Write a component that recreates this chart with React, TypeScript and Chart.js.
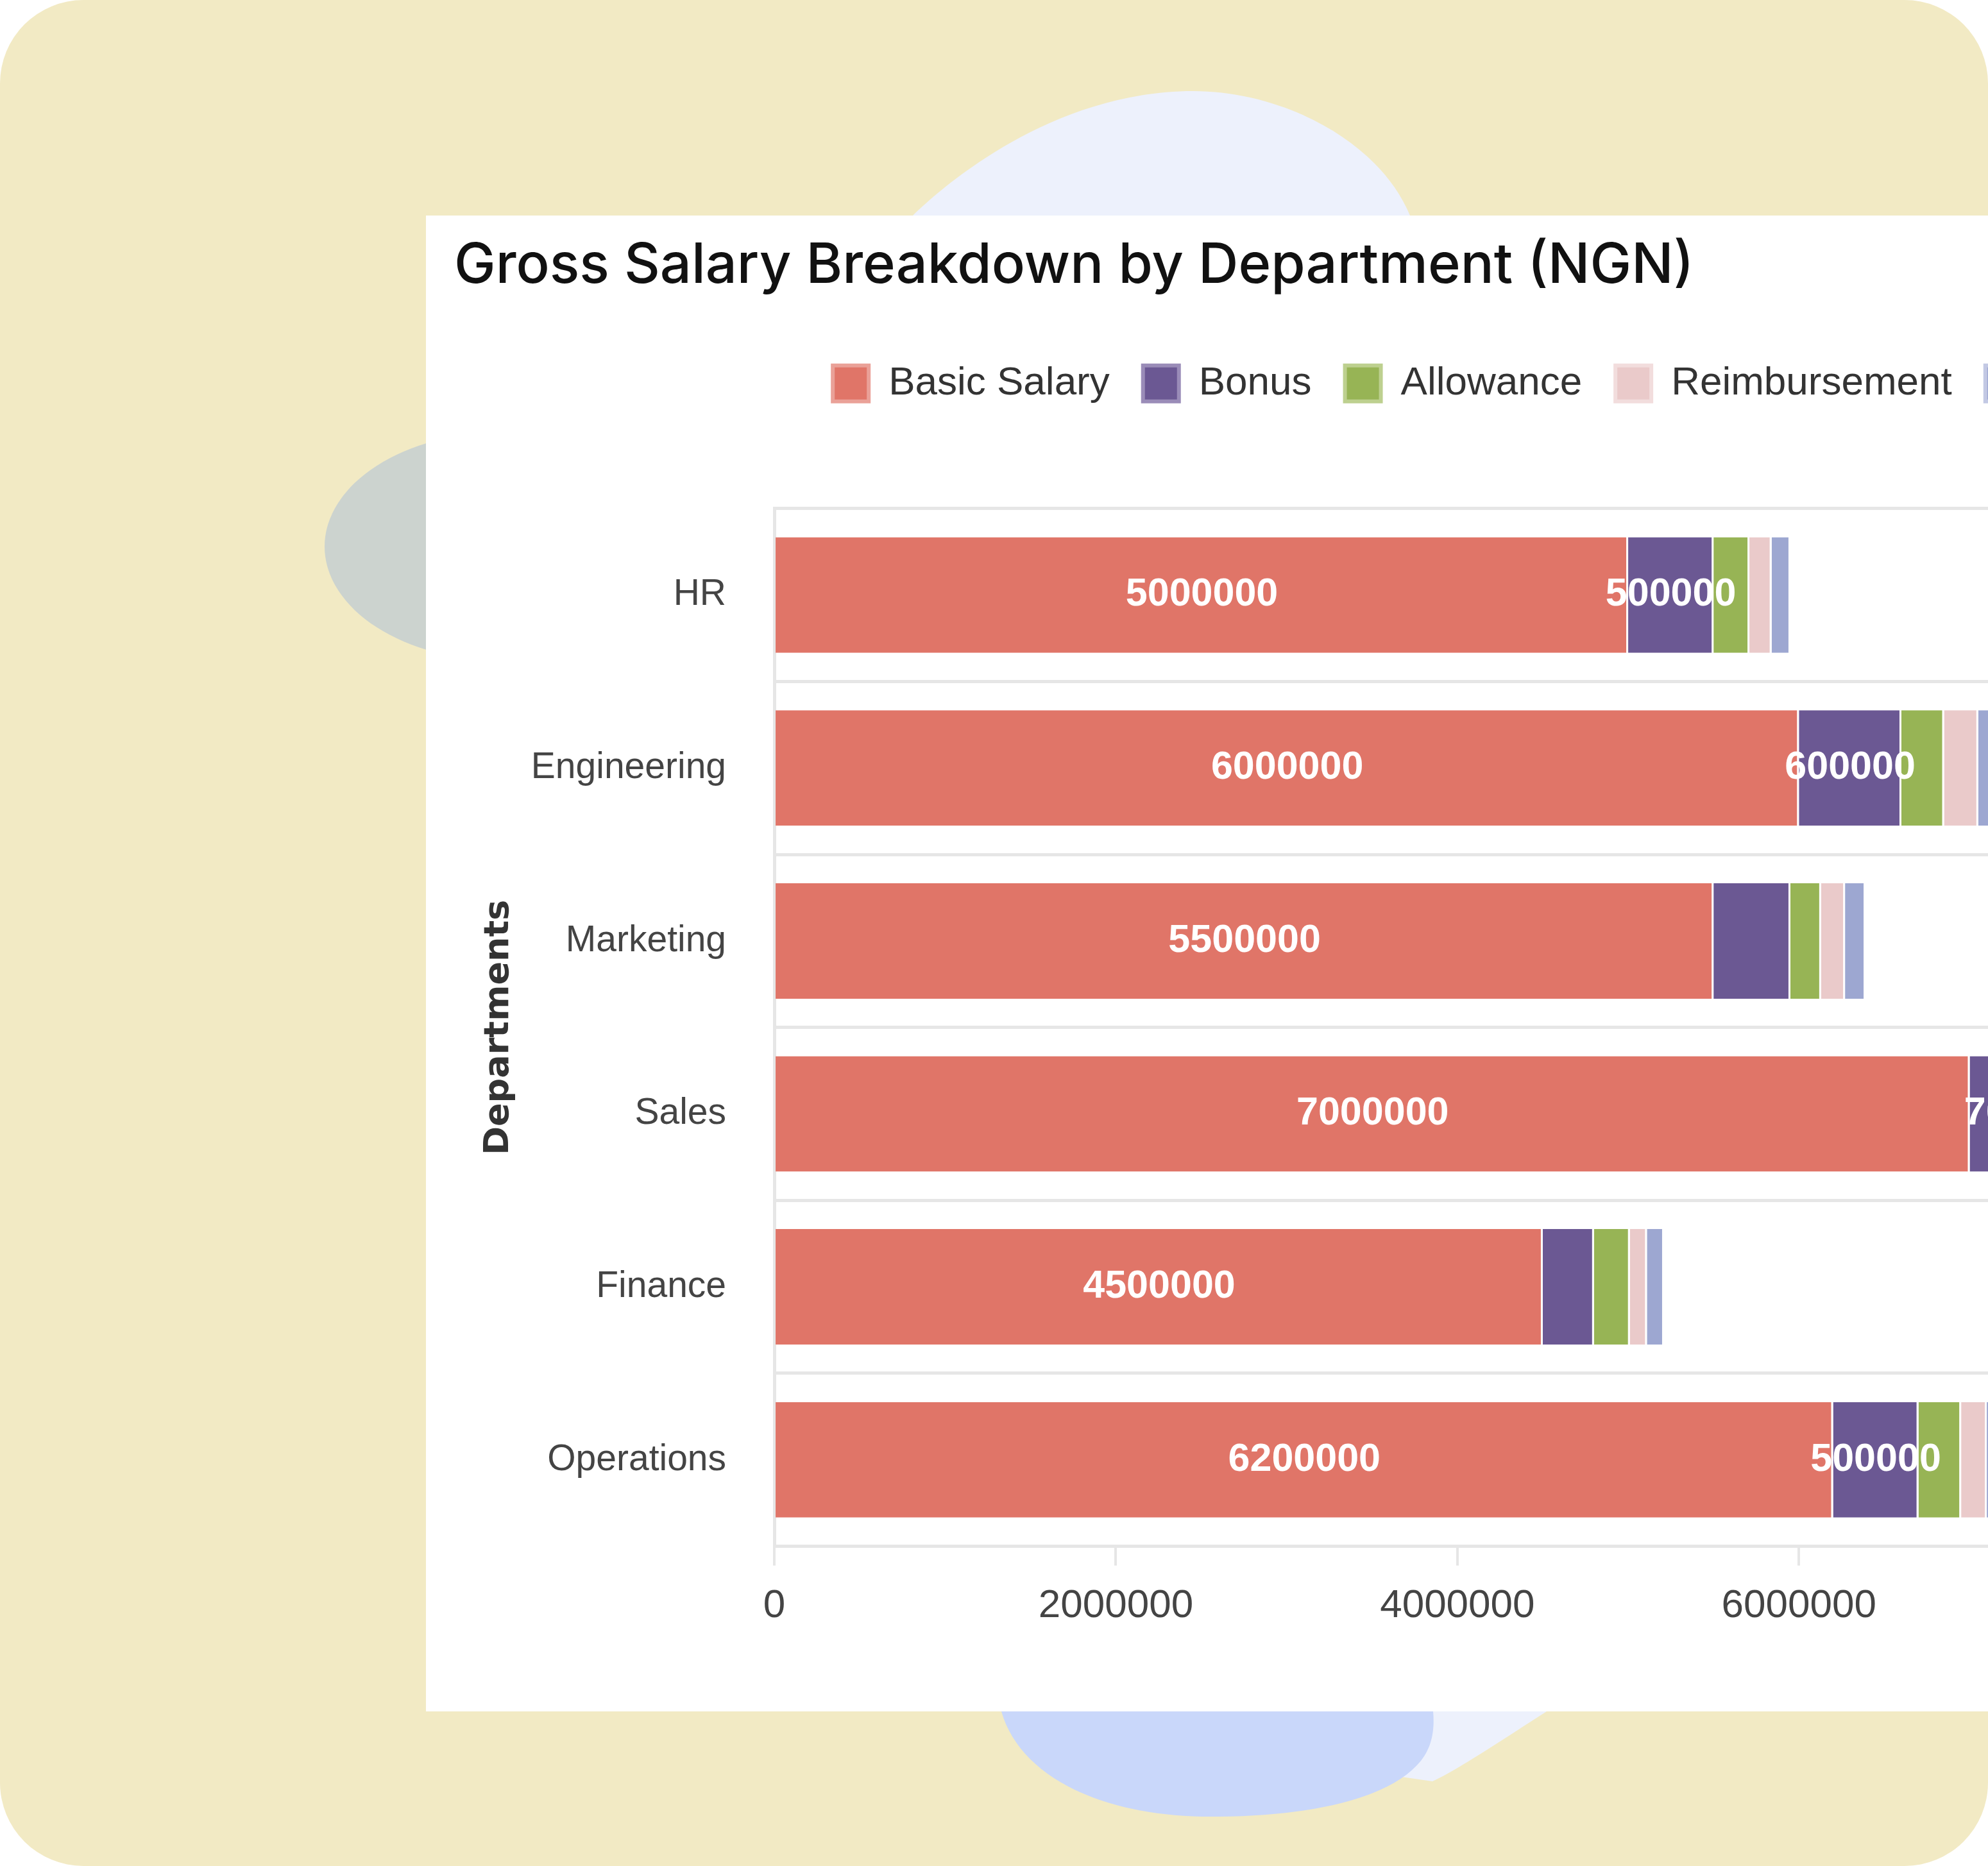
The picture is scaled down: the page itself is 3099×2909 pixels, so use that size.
import React, { useEffect, useRef } from 'react';
import { Chart, registerables } from 'chart.js';

Chart.register(...registerables);

// ---------------- data ----------------
const departments = ['HR', 'Engineering', 'Marketing', 'Sales', 'Finance', 'Operations'];
const seriesLabels = ['Basic Salary', 'Bonus', 'Allowance', 'Reimbursement', 'Other'];
const basicSalary = [5000000, 6000000, 5500000, 7000000, 4500000, 6200000];
const bonus = [500000, 600000, 450000, 700000, 300000, 500000];
const allowance = [210000, 250000, 180000, 300000, 210000, 250000];
const reimbursement = [130000, 200000, 140000, 200000, 100000, 150000];
const other = [110000, 100000, 120000, 150000, 100000, 100000];
const xTickValues = [0, 2000000, 4000000, 6000000, 8000000, 10000000];
const chartTitle = 'Gross Salary Breakdown by Department (NGN)';
const yAxisTitle = 'Departments';
const LABEL_MIN_VALUE = 500000;

// ---------------- styles ----------------
const seriesColors = ['#E07568', '#6B5893', '#97B455', '#EACACA', '#9DA7D1'];
const seriesRings = ['#EAA198', '#9A8CB8', '#BDD08F', '#F2DDDD', '#C3C9E4'];
const ARIAL = '"Liberation Sans", Arial, sans-serif';

const CARD_LEFT = 664;
const CARD_TOP = 336;
const CARD_W = 3369;
const CARD_H = 2332;
const LEGEND_GAP = 154;

const legendGapPlugin = {
  id: 'legendGap',
  beforeLayout(chart: any) {
    const legend = chart.legend;
    if (!legend || legend.__gapPatched) return;
    const origFit = legend.fit;
    legend.fit = function () {
      origFit.call(this);
      this.height += LEGEND_GAP;
    };
    legend.__gapPatched = true;
  },
};

const valueLabelPlugin = {
  id: 'valueLabels',
  afterDatasetsDraw(chart: any) {
    const ctx = chart.ctx;
    ctx.save();
    ctx.font = `bold 61px ${ARIAL}`;
    ctx.fillStyle = '#ffffff';
    ctx.textAlign = 'center';
    ctx.textBaseline = 'middle';
    chart.data.datasets.forEach((ds: any, di: number) => {
      const meta = chart.getDatasetMeta(di);
      if (meta.hidden) return;
      meta.data.forEach((el: any, i: number) => {
        const v = ds.data[i];
        if (v < LABEL_MIN_VALUE) return;
        const p = el.getCenterPoint();
        ctx.fillText(String(v), p.x, p.y);
      });
    });
    ctx.restore();
  },
};

export default function App() {
  const canvasRef = useRef<HTMLCanvasElement>(null);

  useEffect(() => {
    document.body.style.margin = '0';
    document.body.style.overflow = 'hidden';
    const canvas = canvasRef.current;
    if (!canvas) return;
    const seriesData = [basicSalary, bonus, allowance, reimbursement, other];
    const chart = new Chart(canvas, {
      type: 'bar',
      data: {
        labels: departments,
        datasets: seriesLabels.map((label, i) => ({
          label,
          data: seriesData[i],
          backgroundColor: seriesColors[i],
          borderColor: '#ffffff',
          borderWidth: { top: 0, right: 3, bottom: 0, left: 0 },
          borderSkipped: false,
          barPercentage: 0.668,
          categoryPercentage: 1,
        })),
      },
      options: {
        indexAxis: 'y',
        responsive: false,
        animation: false,
        devicePixelRatio: 1,
        layout: { padding: { left: 44, right: 106, top: 0, bottom: 101 } },
        plugins: {
          title: {
            display: true,
            text: chartTitle,
            align: 'start',
            color: '#111111',
            font: { family: 'Inter, "Noto Sans", sans-serif', size: 86.5, weight: '500', lineHeight: 1.2 },
            padding: { top: 27, bottom: 48 },
          },
          legend: {
            display: true,
            position: 'top',
            align: 'center',
            labels: {
              boxWidth: 56,
              boxHeight: 56,
              padding: 52,
              color: '#333333',
              font: { family: ARIAL, size: 62 },
              generateLabels: () =>
                seriesLabels.map((text, i) => ({
                  text,
                  fillStyle: seriesColors[i],
                  strokeStyle: seriesRings[i],
                  lineWidth: 6,
                  hidden: false,
                  datasetIndex: i,
                  fontColor: '#333333',
                })),
            },
          },
          tooltip: { enabled: false },
        },
        scales: {
          x: {
            type: 'linear',
            stacked: true,
            min: xTickValues[0],
            max: xTickValues[xTickValues.length - 1],
            ticks: {
              stepSize: xTickValues[1] - xTickValues[0],
              padding: 26,
              color: '#444444',
              font: { family: ARIAL, size: 62 },
              callback: (v: any) => String(v),
            },
            grid: {
              drawOnChartArea: false,
              drawTicks: true,
              tickLength: 30,
              color: '#e6e6e6',
              lineWidth: 4,
            },
            border: { display: false },
          },
          y: {
            type: 'category',
            stacked: true,
            ticks: {
              padding: 75,
              color: '#444444',
              font: { family: ARIAL, size: 57 },
            },
            grid: {
              color: '#e6e6e6',
              lineWidth: 5,
              drawTicks: false,
              offset: true,
            },
            border: { display: true, color: '#e6e6e6', width: 5 },
            title: {
              display: true,
              text: yAxisTitle,
              color: '#333333',
              font: { family: '"DejaVu Sans", sans-serif', size: 54, weight: 'bold', lineHeight: 1.2 },
              padding: { top: 38, bottom: -58 },
            },
          },
        },
      },
      plugins: [legendGapPlugin, valueLabelPlugin],
    } as any);
    return () => chart.destroy();
  }, []);

  return (
    <div
      style={{
        position: 'relative',
        width: 3099,
        height: 2909,
        overflow: 'hidden',
        background: '#ffffff',
      }}
    >
      <div
        style={{
          position: 'absolute',
          left: 0,
          top: 0,
          width: 3099,
          height: 2909,
          background: '#F2EAC4',
          borderRadius: 130,
        }}
      />
      <svg
        width={3099}
        height={2909}
        style={{ position: 'absolute', left: 0, top: 0 }}
      >
        <path
          d="M 1423 336 C 1470 290, 1640 142, 1860 142 C 2000 142, 2150 220, 2198 336 L 2411 2668 C 2330 2720, 2270 2760, 2233 2777 L 1700 2700 Z"
          fill="#EDF1FC"
        />
        <path
          d="M 1561 2668 C 1590 2770, 1720 2835, 1900 2832 C 2060 2830, 2170 2800, 2215 2745 C 2235 2720, 2236 2690, 2234 2668 Z"
          fill="#C9D7FA"
        />
        <ellipse cx={783} cy={852} rx={277} ry={178} fill="#CCD3CF" />
      </svg>
      <div
        style={{
          position: 'absolute',
          left: CARD_LEFT,
          top: CARD_TOP,
          width: CARD_W,
          height: CARD_H,
          background: '#ffffff',
        }}
      >
        <canvas
          ref={canvasRef}
          width={CARD_W}
          height={CARD_H}
          style={{ display: 'block', width: CARD_W, height: CARD_H }}
        />
      </div>
    </div>
  );
}
